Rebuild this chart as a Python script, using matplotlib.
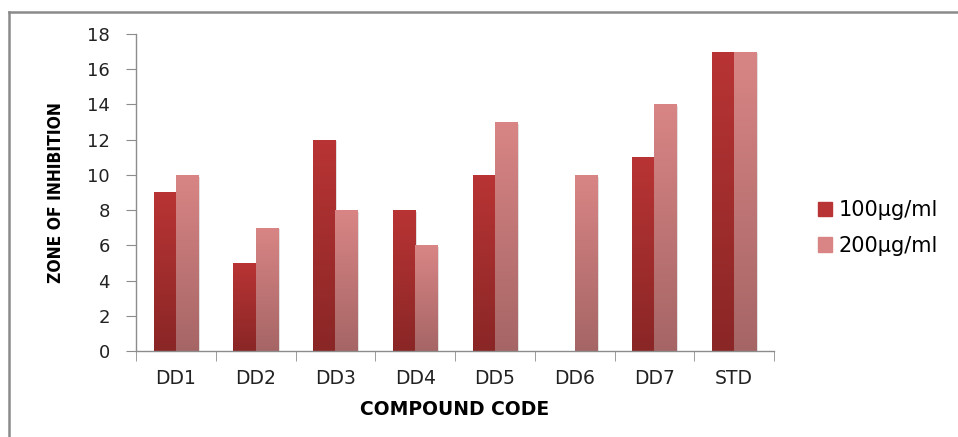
import numpy as np
import matplotlib.pyplot as plt
from matplotlib.colors import LinearSegmentedColormap
from matplotlib.lines import Line2D
from matplotlib.patches import Rectangle

compounds = ['DD1', 'DD2', 'DD3', 'DD4', 'DD5', 'DD6', 'DD7', 'STD']
zone_100 = [9, 5, 12, 8, 10, 0, 11, 17]
zone_200 = [10, 7, 8, 6, 13, 10, 14, 17]
series_labels = ['100\u03bcg/ml', '200\u03bcg/ml']

# top / bottom colours of the gradient fill for each series
grad_100 = ('#b93434', '#8a2626')
grad_200 = ('#d98585', '#a66565')

plt.rcParams['font.family'] = ['DejaVu Sans']

fig = plt.figure(figsize=(9.58, 4.37), dpi=100)
ax = fig.add_axes([0.142, 0.197, 0.666, 0.725])

x = np.arange(len(compounds))
w = 0.28
bars_100 = ax.bar(x - w / 2, zone_100, width=w, color='none', edgecolor='none')
bars_200 = ax.bar(x + w / 2, zone_200, width=w, color='none', edgecolor='none')

grad = np.linspace(0, 1, 256).reshape(-1, 1)


def fill_gradient(bars, cols):
    cmap = LinearSegmentedColormap.from_list('g', [cols[1], cols[0]])
    for b in bars:
        h = b.get_height()
        if h <= 0:
            continue
        x0, wd = b.get_x(), b.get_width()
        # soft drop shadow
        sh = Rectangle((x0 + 0.02, 0), wd, h - 0.1, color='#000000', alpha=0.12,
                       zorder=1, linewidth=0)
        ax.add_patch(sh)
        im = ax.imshow(grad, extent=[x0, x0 + wd, 0, h], origin='lower',
                       cmap=cmap, aspect='auto', zorder=2)
        im.set_clip_path(b)


fill_gradient(bars_100, grad_100)
fill_gradient(bars_200, grad_200)

ax.set_xlim(-0.5, len(compounds) - 0.5)
ax.set_ylim(0, 18)
ax.set_yticks(range(0, 19, 2))
ax.set_xticks(x)
ax.set_xticklabels(compounds)
ax.set_xticks(np.arange(-0.5, len(compounds), 1), minor=True)

for s in ['top', 'right']:
    ax.spines[s].set_visible(False)
for s in ['left', 'bottom']:
    ax.spines[s].set_color('#8c8c8c')
    ax.spines[s].set_linewidth(1)

ax.tick_params(axis='y', length=7, color='#8c8c8c', pad=12, labelsize=13,
               labelcolor='#222222')
ax.tick_params(axis='x', which='major', length=0, pad=13, labelsize=13.5,
               labelcolor='#222222')
ax.tick_params(axis='x', which='minor', length=7, color='#8c8c8c')

ax.set_xlabel('COMPOUND CODE', fontsize=13.5, fontweight='bold', labelpad=9)
ax.set_ylabel('ZONE OF INHIBITION', fontsize=12.5, fontweight='bold',
              fontstretch='condensed', labelpad=16)

handles = [Rectangle((0, 0), 1, 1, color=grad_100[0]),
           Rectangle((0, 0), 1, 1, color=grad_200[0])]
fig.legend(handles, series_labels, loc='center left',
           bbox_to_anchor=(0.834, 0.478), frameon=False, fontsize=15,
           handlelength=0.7, handleheight=0.7, handletextpad=0.3,
           labelspacing=0.75)

# outer frame of the chart area
fig.add_artist(Line2D([0.0095, 0.0095], [0, 0.973], color='#8a8a8a', lw=1.8,
                      transform=fig.transFigure))
fig.add_artist(Line2D([0.0095, 1.0], [0.973, 0.973], color='#8a8a8a', lw=1.8,
                      transform=fig.transFigure))

fig.savefig('out.png', dpi=100)
